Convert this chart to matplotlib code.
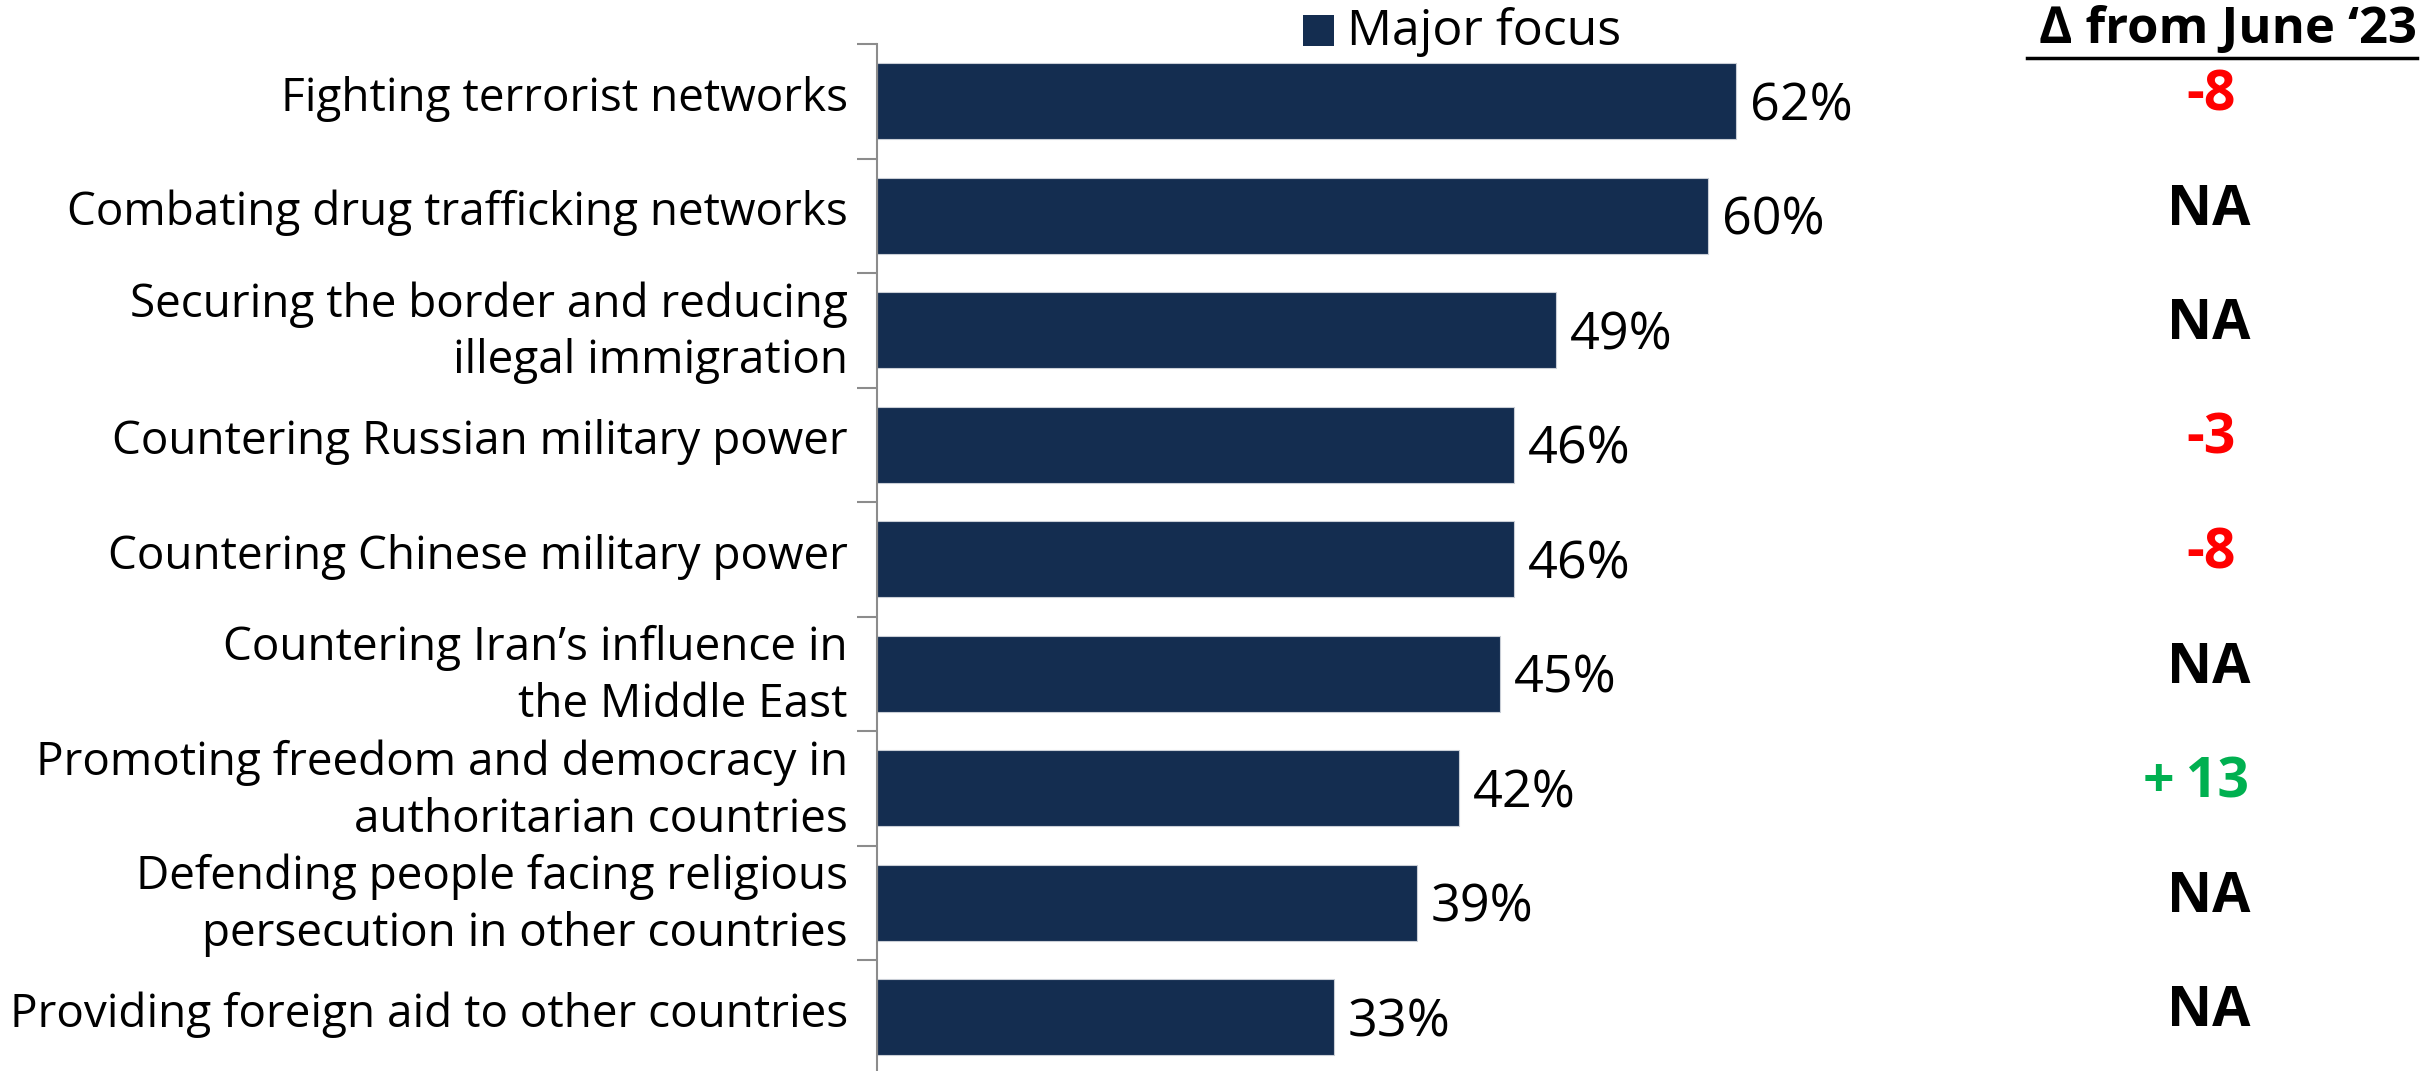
import matplotlib
matplotlib.use("Agg")
import matplotlib.pyplot as plt
from matplotlib.lines import Line2D
from matplotlib.patches import Rectangle
import matplotlib.transforms as mtransforms

categories = [
    "Fighting terrorist networks",
    "Combating drug trafficking networks",
    "Securing the border and reducing\nillegal immigration",
    "Countering Russian military power",
    "Countering Chinese military power",
    "Countering Iran\u2019s influence in\nthe Middle East",
    "Promoting freedom and democracy in\nauthoritarian countries",
    "Defending people facing religious\npersecution in other countries",
    "Providing foreign aid to other countries",
]
major_focus = [62, 60, 49, 46, 46, 45, 42, 39, 33]
delta_labels = ["-8", "NA", "NA", "-3", "-8", "NA", "+13", "NA", "NA"]
delta_header = "\u2206 from June \u201823"
legend_label = "Major focus"

BAR = "#142D50"
RED = "#FF0000"
GREEN = "#00B050"

plt.rcParams['font.family'] = ['Open Sans', 'DejaVu Sans']

W, H = 2425, 1071
fig = plt.figure(figsize=(W / 100, H / 100), dpi=100)

ax_left = 877 / W
ax_top = 1 - 44 / H
ax_bottom = (H - 1074.5) / H
ax = fig.add_axes([ax_left, ax_bottom, 1 - ax_left, ax_top - ax_bottom])
px_per_unit = 13.85
ax.set_xlim(0, (W - 877) / px_per_unit)
n = len(categories)
ax.set_ylim(n - 0.5, -0.5)

ypos = list(range(n))
ax.barh(ypos, major_focus, height=0.665, color=BAR, edgecolor="#C9CED6", linewidth=0.8)

for y, v in zip(ypos, major_focus):
    ax.annotate(f"{v}%", xy=(v, y), xytext=(10, -4), textcoords="offset points",
                ha="left", va="center", fontsize=37.5, color="black")

for s in ["top", "right", "bottom"]:
    ax.spines[s].set_visible(False)
ax.spines["left"].set_color("#8C8C8C")
ax.spines["left"].set_linewidth(1.5)
ax.set_xticks([])
ax.set_yticks(ypos)
ax.set_yticklabels(categories, fontsize=33, linespacing=1.3)
ax.tick_params(axis="y", which="major", length=0, pad=21)
ax.set_yticks([i + 0.5 for i in range(-1, n)], minor=True)
ax.tick_params(axis="y", which="minor", length=14.5, width=1.5, color="#8C8C8C")
shift = mtransforms.ScaledTranslation(0, 8 / 100, fig.dpi_scale_trans)
for lab in ax.get_yticklabels():
    lab.set_transform(lab.get_transform() + shift)

# delta column
trans = mtransforms.blended_transform_factory(fig.transFigure, ax.transData)
for y, d in zip(ypos, delta_labels):
    if d.startswith("+"):
        c = GREEN
        x = 2196
    elif d.startswith("-"):
        c = RED
        x = 2211
    else:
        c = "black"
        x = 2209
    ax.text(x / W, y - 0.05, d.replace("+", "+\u2009"), transform=trans, ha="center", va="center",
            fontsize=40, fontweight="bold", color=c)

# header
fig.text(2417 / W, 1 - 30 / H, delta_header, ha="right", va="center",
         fontsize=36.5, fontweight="bold", color="black")
fig.add_artist(Line2D([2027 / W, 2417 / W], [1 - 58 / H, 1 - 58 / H],
                      transform=fig.transFigure, color="black", linewidth=2.5))

# legend
fig.add_artist(Rectangle((1303 / W, 1 - 46 / H), 31 / W, 31 / H,
                         transform=fig.transFigure, facecolor=BAR, edgecolor="none"))
fig.text(1347 / W, 1 - 32 / H, legend_label, ha="left", va="center",
         fontsize=36, color="black")

fig.savefig("out.png", dpi=100)
